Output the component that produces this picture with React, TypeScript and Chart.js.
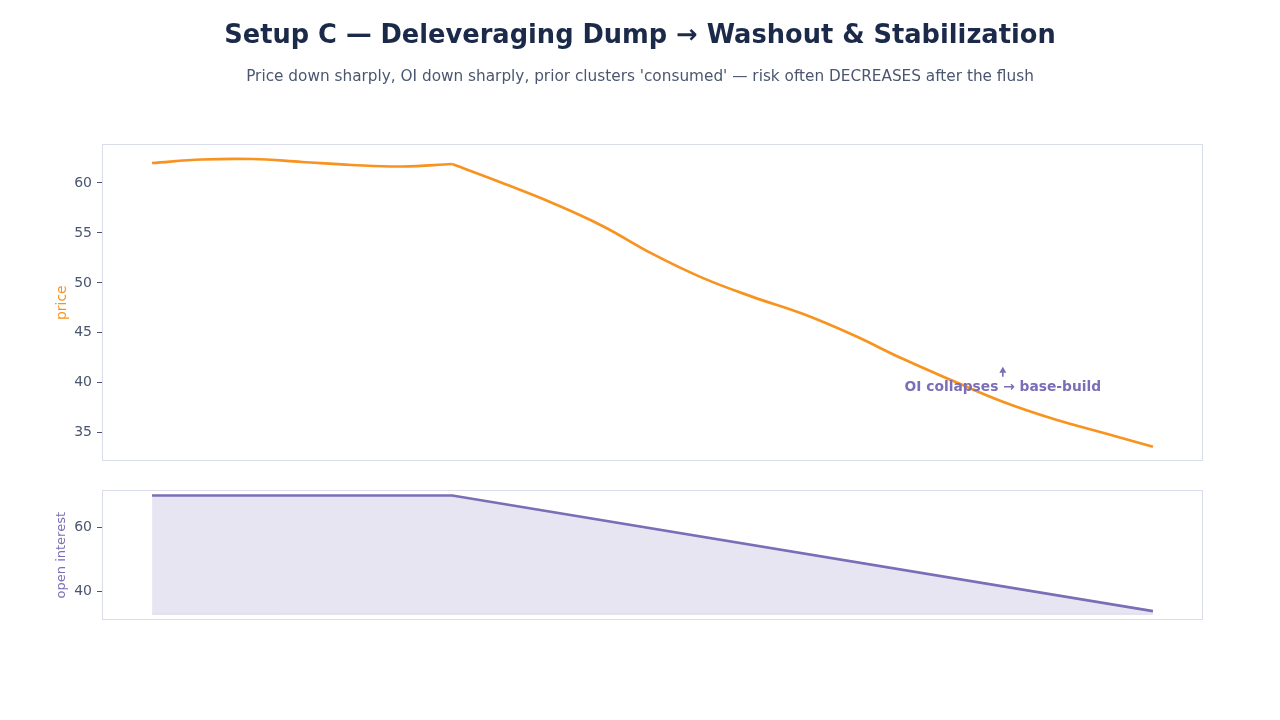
import React, { useEffect, useRef } from "react";
import { Chart, registerables } from "chart.js";

Chart.register(...registerables);

const T = [0, 1, 2, 3, 4, 5, 6, 7, 8, 9, 10, 11, 12, 13, 14, 15, 16, 17, 18, 19, 20];
const PRICE = [62.0, 62.35, 62.4, 62.1, 61.8, 61.65, 61.9, 60.0, 58.0, 55.7, 52.9, 50.5, 48.6, 46.9, 44.8, 42.4, 40.2, 38.1, 36.4, 35.0, 33.6];
const BREAK_INDEX = 6;
const OI_T = [0, 6, 20];
const OI = [70, 70, 33.7];
const OI_BASE = 32.7;
const PRICE_TICKS = [35, 40, 45, 50, 55, 60];
const OI_TICKS = [40, 60];

const TITLE = "Setup C — Deleveraging Dump → Washout & Stabilization";
const SUBTITLE = "Price down sharply, OI down sharply, prior clusters 'consumed' — risk often DECREASES after the flush";
const ANNOT_TEXT = "OI collapses → base-build";
const ANNOT_X = 17;
const ANNOT_Y = 41.6;

const FONT = "'DejaVu Sans', sans-serif";
const ORANGE = "#f7931e";
const PURPLE = "#7b6db6";
const TICK_COLOR = "#4a5570";
const BORDER = "#d8dde9";

const frame = {
  id: "frame",
  afterDraw(chart: any) {
    const { ctx, chartArea } = chart;
    ctx.save();
    ctx.strokeStyle = BORDER;
    ctx.lineWidth = 1;
    ctx.strokeRect(
      Math.round(chartArea.left) + 0.5,
      Math.round(chartArea.top) + 0.5,
      Math.round(chartArea.right - chartArea.left) - 1,
      Math.round(chartArea.bottom - chartArea.top) - 1
    );
    ctx.restore();
  },
};

const annot = {
  id: "annot",
  afterDatasetsDraw(chart: any) {
    const { ctx, scales } = chart;
    const x = scales.x.getPixelForValue(ANNOT_X);
    const y = scales.y.getPixelForValue(ANNOT_Y);
    ctx.save();
    ctx.fillStyle = PURPLE;
    ctx.strokeStyle = PURPLE;
    ctx.beginPath();
    ctx.moveTo(x, y);
    ctx.lineTo(x - 3.5, y + 6);
    ctx.lineTo(x + 3.5, y + 6);
    ctx.closePath();
    ctx.fill();
    ctx.lineWidth = 1.6;
    ctx.beginPath();
    ctx.moveTo(x, y + 5);
    ctx.lineTo(x, y + 10);
    ctx.stroke();
    ctx.font = `bold 13.8px ${FONT}`;
    ctx.textAlign = "center";
    ctx.textBaseline = "middle";
    ctx.fillText(ANNOT_TEXT, x, y + 21);
    ctx.restore();
  },
};

function yScale(min: number, max: number, ticks: number[], title: string, color: string, size: number) {
  return {
    position: "left",
    min,
    max,
    afterBuildTicks: (s: any) => {
      s.ticks = ticks.map((v) => ({ value: v }));
    },
    afterFit: (s: any) => {
      s.width = 102;
    },
    grid: { display: true, drawOnChartArea: false, drawTicks: true, tickLength: 5, color: TICK_COLOR },
    border: { display: false },
    ticks: { color: TICK_COLOR, font: { family: FONT, size: 14 }, padding: 5 },
    title: { display: true, text: title, color, font: { family: FONT, size }, padding: { top: 54, bottom: 0 } },
  };
}

const rightDummy = {
  position: "right",
  display: true,
  afterFit: (s: any) => {
    s.width = 77;
  },
  grid: { display: false },
  border: { display: false },
  ticks: { display: false },
};

const xScale = { type: "linear", min: -1, max: 21, display: false };

export default function App() {
  const topRef = useRef<HTMLCanvasElement>(null);
  const botRef = useRef<HTMLCanvasElement>(null);

  useEffect(() => {
    const pts = T.map((t, i) => ({ x: t, y: PRICE[i] }));
    const top = new Chart(topRef.current!, {
      type: "line",
      data: {
        datasets: [
          { data: pts.slice(0, BREAK_INDEX + 1), borderColor: ORANGE, borderWidth: 2.7, pointRadius: 0, tension: 0.4, fill: false },
          { data: pts.slice(BREAK_INDEX), borderColor: ORANGE, borderWidth: 2.7, pointRadius: 0, tension: 0.4, fill: false },
        ],
      },
      options: {
        animation: false,
        responsive: false,
        events: [],
        layout: { padding: { top: 0, bottom: 16, left: 0, right: 0 } },
        plugins: {
          legend: { display: false },
          tooltip: { enabled: false },
          title: {
            display: true,
            text: TITLE,
            color: "#1c2a4a",
            font: { family: FONT, size: 25.7, weight: "bold" },
            padding: { top: 20.6, bottom: 7 },
          },
          subtitle: {
            display: true,
            text: SUBTITLE,
            color: "#4a5670",
            font: { family: FONT, size: 15.3, weight: "normal" },
            padding: { top: 9, bottom: 58.6 },
          },
        },
        scales: {
          x: xScale,
          y: yScale(32.17, 63.86, PRICE_TICKS, "price", ORANGE, 14),
          yr: rightDummy,
        },
      } as any,
      plugins: [frame, annot],
    });

    const bot = new Chart(botRef.current!, {
      type: "line",
      data: {
        datasets: [
          {
            data: OI_T.map((t, i) => ({ x: t, y: OI[i] })),
            borderColor: PURPLE,
            borderWidth: 2.7,
            pointRadius: 0,
            tension: 0,
            fill: "+1",
            backgroundColor: "rgba(123,109,182,0.18)",
          },
          {
            data: [
              { x: OI_T[0], y: OI_BASE },
              { x: OI_T[OI_T.length - 1], y: OI_BASE },
            ],
            borderColor: "rgba(123,109,182,0.2)",
            borderWidth: 1,
            pointRadius: 0,
            fill: false,
          },
        ],
      },
      options: {
        animation: false,
        responsive: false,
        events: [],
        layout: { padding: { top: 7, bottom: 100, left: 0, right: 0 } },
        plugins: { legend: { display: false }, tooltip: { enabled: false } },
        scales: {
          x: xScale,
          y: yScale(30.9, 71.6, OI_TICKS, "open interest", PURPLE, 13),
          yr: rightDummy,
        },
      } as any,
      plugins: [frame],
    });

    return () => {
      top.destroy();
      bot.destroy();
    };
  }, []);

  return (
    <div style={{ position: "fixed", left: 0, top: 0, width: 1280, height: 720, background: "#fff" }}>
      <canvas ref={topRef} width={1280} height={477} style={{ position: "absolute", left: 0, top: 0, width: 1280, height: 477 }} />
      <canvas ref={botRef} width={1280} height={243} style={{ position: "absolute", left: 0, top: 477, width: 1280, height: 243 }} />
    </div>
  );
}
